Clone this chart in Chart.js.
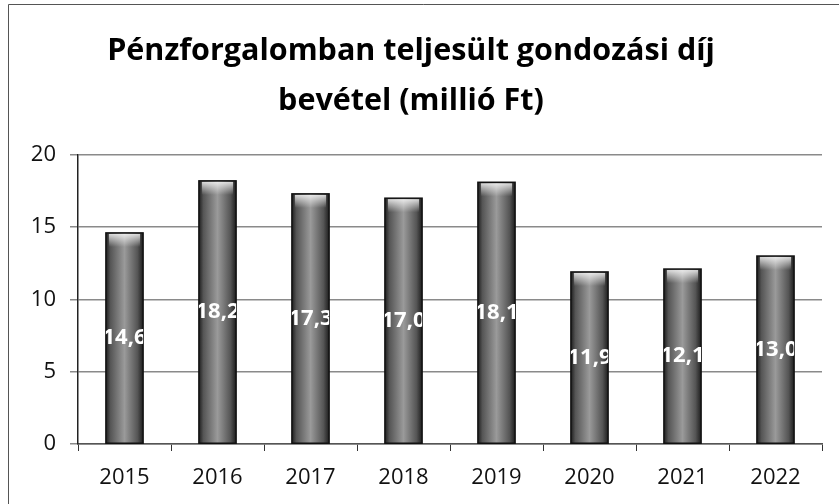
<!DOCTYPE html>
<html>
<head>
<meta charset="utf-8">
<script src="https://cdn.jsdelivr.net/npm/chart.js@4/dist/chart.umd.min.js"></script>
<style>
  html, body { margin: 0; padding: 0; background: #fff; }
  #wrap { width: 839px; height: 504px; position: relative; }
</style>
</head>
<body>
<div id="wrap"><canvas id="chart" width="839" height="504"></canvas></div>
<script>
const years = ['2015', '2016', '2017', '2018', '2019', '2020', '2021', '2022'];
const revenue = [14.6, 18.2, 17.3, 17.0, 18.1, 11.9, 12.1, 13.0];
const yTicks = [0, 5, 10, 15, 20];
const titleLines = ['Pénzforgalomban teljesült gondozási díj', 'bevétel (millió Ft)'];

const FONT = "'Open Sans', 'DejaVu Sans', sans-serif";

// white page + scanned-looking frame
const frame = {
  id: 'frame',
  beforeDraw(chart) {
    const c = chart.ctx;
    c.save();
    c.fillStyle = '#fff';
    c.fillRect(0, 0, chart.width, chart.height);
    c.strokeStyle = '#555';
    c.lineWidth = 1;
    c.beginPath();
    c.moveTo(8.5, chart.height);
    c.lineTo(8.5, 4.5);
    c.lineTo(chart.width, 4.5);
    c.stroke();
    c.restore();
  }
};

// shaded cylinder-ish bars and clipped value labels
const barShade = {
  id: 'barShade',
  afterDatasetsDraw(chart) {
    const c = chart.ctx;
    const meta = chart.getDatasetMeta(0);
    meta.data.forEach((el, i) => {
      const { x, y, base, width } = el.getProps(['x', 'y', 'base', 'width'], true);
      const left = x - width / 2;
      const h = base - y;
      c.save();
      const g = c.createLinearGradient(left, 0, left + width, 0);
      g.addColorStop(0, '#1e1e1e');
      g.addColorStop(0.12, '#555');
      g.addColorStop(0.5, '#9a9a9a');
      g.addColorStop(0.85, '#555');
      g.addColorStop(1, '#1e1e1e');
      c.fillStyle = g;
      c.fillRect(left, y, width, h);
      const top = c.createLinearGradient(0, y, 0, y + 14);
      top.addColorStop(0, 'rgba(255,255,255,0.85)');
      top.addColorStop(1, 'rgba(255,255,255,0)');
      c.fillStyle = top;
      c.fillRect(left + 3, y + 1, width - 6, 14);
      c.strokeStyle = '#111';
      c.lineWidth = 1.5;
      c.strokeRect(left, y, width, h);

      // label, clipped to the bar like the original
      c.beginPath();
      c.rect(left, y, width, h);
      c.clip();
      c.fillStyle = '#fff';
      c.font = 'bold 22px ' + FONT;
      c.textAlign = 'center';
      c.textBaseline = 'middle';
      c.fillText(revenue[i].toFixed(1).replace('.', ','), x, y + h / 2);
      c.restore();
    });
  }
};

new Chart(document.getElementById('chart'), {
  type: 'bar',
  data: {
    labels: years,
    datasets: [{
      data: revenue,
      backgroundColor: 'rgba(0,0,0,0)',
      borderWidth: 0,
      barPercentage: 0.8,
      categoryPercentage: 0.5
    }]
  },
  options: {
    responsive: false,
    animation: false,
    layout: { padding: { left: 0, right: 17, top: 0, bottom: 0 } },
    plugins: {
      legend: { display: false },
      tooltip: { enabled: false },
      title: {
        display: true,
        text: titleLines,
        color: '#000',
        font: { family: FONT, size: 30.5, weight: 'bold', lineHeight: 1.62 },
        padding: { top: 27, bottom: 29 }
      }
    },
    scales: {
      x: {
        offset: true,
        afterFit(scale) { scale.height = 60; },
        grid: {
          offset: true,
          drawOnChartArea: false,
          drawTicks: true,
          tickLength: 7,
          color: '#333'
        },
        border: { display: true, color: '#555', width: 1.5 },
        ticks: {
          color: '#111',
          padding: 14,
          font: { family: FONT, size: 22 }
        }
      },
      y: {
        min: 0,
        max: 20,
        afterBuildTicks(scale) { scale.ticks = yTicks.map(v => ({ value: v })); },
        afterFit(scale) { scale.width = 78; },
        grid: {
          color: '#8a8a8a',
          lineWidth: 1.5,
          tickLength: 8
        },
        border: { display: true, color: '#222', width: 1.5 },
        ticks: {
          color: '#111',
          padding: 14,
          font: { family: FONT, size: 22 }
        }
      }
    }
  },
  plugins: [frame, barShade]
});
</script>
</body>
</html>
